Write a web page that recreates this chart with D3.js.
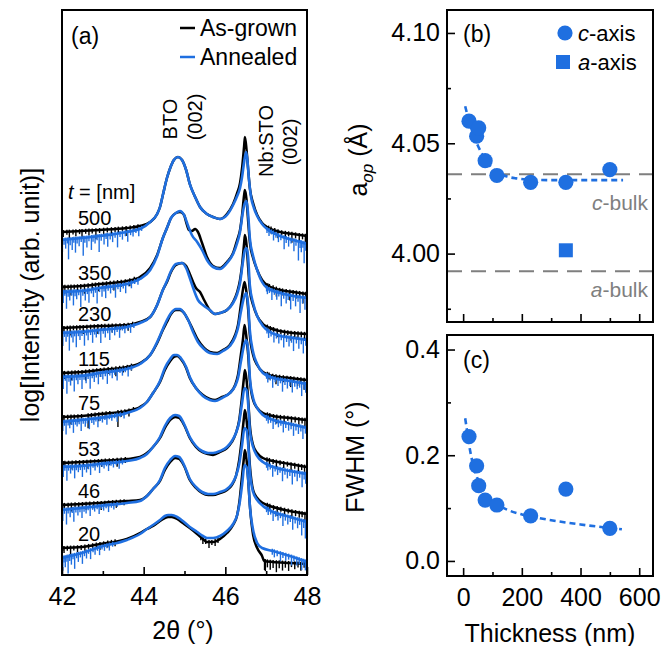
<!DOCTYPE html>
<html>
<head>
<meta charset="utf-8">
<script src="https://cdn.jsdelivr.net/npm/d3@7"></script>
<style>
  body { margin: 0; background: #fff; }
  svg { display: block; }
  text { font-family: "Liberation Sans", Arial, Helvetica, sans-serif; }
</style>
</head>
<body>
<svg id="fig" width="671" height="646"></svg>
<script>
// ---------- (a) XRD scans: [2θ (deg), log intensity + offset] ----------
const ag500 = [[42.00,34.3],[42.49,34.4],[42.93,34.5],[43.59,34.7],[43.91,34.9],[44.16,35.3],[44.33,36.1],[44.40,36.8],[44.47,38.0],[44.57,39.7],[44.65,40.7],[44.74,41.5],[44.84,41.8],[44.94,41.5],[45.04,40.5],[45.13,39.1],[45.26,37.8],[45.38,36.8],[45.55,36.1],[45.70,35.8],[45.87,35.6],[46.04,36.1],[46.19,37.1],[46.29,38.2],[46.36,39.2],[46.41,40.7],[46.46,42.9],[46.48,43.8],[46.52,42.5],[46.56,40.5],[46.60,38.7],[46.68,37.2],[46.78,36.0],[46.90,35.2],[47.02,34.8],[47.34,34.3],[47.66,34.1],[48.00,33.9]];
const an500 = [[42.00,33.5],[42.49,33.7],[42.93,33.9],[43.59,34.3],[43.91,34.6],[44.16,35.3],[44.33,36.1],[44.40,36.8],[44.47,38.0],[44.57,39.7],[44.65,40.7],[44.74,41.5],[44.84,41.8],[44.94,41.5],[45.04,40.5],[45.13,39.1],[45.26,37.8],[45.38,36.8],[45.55,36.1],[45.70,35.8],[45.87,35.6],[46.04,36.0],[46.19,37.0],[46.29,37.9],[46.36,38.7],[46.41,39.8],[46.46,41.3],[46.51,42.3],[46.54,41.5],[46.58,39.5],[46.63,37.8],[46.70,36.7],[46.78,35.9],[46.90,35.1],[47.02,34.6],[47.34,33.9],[47.66,33.5],[48.00,33.1]];
const ag350 = [[42.00,28.8],[42.49,28.9],[42.93,29.1],[43.59,29.4],[43.91,29.8],[44.16,30.7],[44.33,32.0],[44.47,33.7],[44.57,34.7],[44.67,35.7],[44.79,36.2],[44.89,36.3],[44.99,36.0],[45.04,35.3],[45.11,34.5],[45.18,34.4],[45.26,34.6],[45.33,34.3],[45.43,33.2],[45.55,31.8],[45.70,30.9],[45.87,30.7],[46.04,31.3],[46.19,32.2],[46.29,33.5],[46.36,34.5],[46.41,36.0],[46.46,38.0],[46.48,38.5],[46.52,37.5],[46.56,35.3],[46.60,33.3],[46.68,31.7],[46.78,30.5],[46.90,29.5],[47.02,29.0],[47.34,28.5],[47.66,28.3],[48.00,28.1]];
const an350 = [[42.00,28.3],[42.49,28.4],[42.93,28.7],[43.59,29.1],[43.91,29.6],[44.16,30.5],[44.33,31.9],[44.47,33.7],[44.57,34.7],[44.67,35.7],[44.79,36.2],[44.89,36.4],[44.99,36.0],[45.09,34.9],[45.18,34.0],[45.31,33.3],[45.43,32.5],[45.55,31.5],[45.70,30.8],[45.87,30.6],[46.04,31.2],[46.19,32.1],[46.29,33.2],[46.36,34.3],[46.43,36.3],[46.48,37.2],[46.52,37.4],[46.56,36.0],[46.60,33.7],[46.68,31.9],[46.78,30.5],[46.90,29.3],[47.02,28.7],[47.34,28.2],[47.66,27.9],[48.00,27.7]];
const ag230 = [[42.00,24.7],[42.49,24.8],[42.93,24.9],[43.59,25.0],[43.91,25.3],[44.16,25.8],[44.33,27.0],[44.47,28.5],[44.57,29.3],[44.67,30.3],[44.79,31.0],[44.94,31.2],[45.04,30.9],[45.13,30.1],[45.21,29.3],[45.28,28.7],[45.38,28.3],[45.48,27.5],[45.62,26.5],[45.75,26.1],[45.87,26.2],[46.04,26.5],[46.19,27.3],[46.29,28.3],[46.36,29.5],[46.41,31.0],[46.46,33.2],[46.48,34.0],[46.52,33.0],[46.56,30.7],[46.60,28.5],[46.68,27.0],[46.78,25.9],[46.92,25.1],[47.09,24.7],[47.34,24.4],[47.66,24.2],[48.00,24.1]];
const an230 = [[42.00,24.2],[42.49,24.3],[42.93,24.5],[43.59,24.8],[43.91,25.2],[44.16,25.8],[44.33,27.0],[44.47,28.5],[44.57,29.4],[44.67,30.4],[44.79,31.1],[44.94,31.2],[45.04,30.7],[45.13,29.7],[45.23,28.5],[45.33,27.5],[45.45,27.0],[45.62,26.5],[45.75,26.1],[45.87,26.2],[46.04,26.5],[46.19,27.2],[46.29,28.1],[46.36,29.2],[46.43,31.3],[46.48,32.5],[46.52,32.7],[46.56,31.7],[46.60,29.0],[46.68,27.2],[46.78,25.9],[46.92,24.9],[47.09,24.3],[47.34,23.9],[47.66,23.7],[48.00,23.5]];
const ag115 = [[42.00,20.2],[42.49,20.3],[42.93,20.5],[43.59,20.8],[43.91,21.2],[44.16,22.0],[44.33,23.2],[44.47,24.5],[44.57,25.3],[44.67,26.1],[44.79,26.5],[44.89,26.5],[44.99,26.2],[45.09,25.5],[45.21,24.5],[45.33,23.5],[45.48,22.7],[45.62,22.3],[45.80,22.2],[45.94,22.5],[46.11,23.0],[46.24,24.0],[46.31,25.0],[46.38,27.0],[46.43,28.5],[46.47,29.3],[46.51,28.5],[46.56,26.5],[46.60,24.0],[46.68,22.0],[46.78,21.0],[46.92,20.3],[47.17,19.9],[47.58,19.7],[48.00,19.5]];
const an115 = [[42.00,19.8],[42.49,19.9],[42.93,20.2],[43.59,20.6],[43.91,21.1],[44.16,22.0],[44.33,23.3],[44.47,24.6],[44.57,25.5],[44.67,26.2],[44.79,26.6],[44.89,26.6],[44.99,26.2],[45.09,25.5],[45.21,24.3],[45.33,23.3],[45.48,22.6],[45.62,22.2],[45.80,22.1],[45.94,22.4],[46.11,22.9],[46.24,23.8],[46.31,24.7],[46.38,26.3],[46.46,27.8],[46.51,28.2],[46.56,27.0],[46.60,24.5],[46.68,22.3],[46.78,21.1],[46.92,20.2],[47.17,19.7],[47.58,19.4],[48.00,19.1]];
const ag75 = [[42.00,15.8],[42.49,15.9],[42.93,16.1],[43.59,16.4],[43.91,16.8],[44.08,17.3],[44.23,18.2],[44.40,19.3],[44.52,20.5],[44.65,21.4],[44.74,21.8],[44.82,21.9],[44.91,21.6],[45.04,20.7],[45.13,19.7],[45.28,18.7],[45.45,18.0],[45.62,17.6],[45.75,17.5],[45.92,17.8],[46.11,18.2],[46.24,19.0],[46.31,20.0],[46.38,22.0],[46.43,23.5],[46.47,25.0],[46.51,24.0],[46.56,22.0],[46.60,19.5],[46.68,17.5],[46.78,16.7],[46.92,16.2],[47.17,15.9],[47.58,15.7],[48.00,15.5]];
const an75 = [[42.00,15.3],[42.49,15.5],[42.93,15.7],[43.59,16.2],[43.91,16.7],[44.08,17.3],[44.23,18.2],[44.40,19.4],[44.52,20.7],[44.65,21.6],[44.74,22.0],[44.82,22.0],[44.91,21.7],[45.04,20.8],[45.13,19.8],[45.28,18.7],[45.45,17.9],[45.62,17.5],[45.75,17.4],[45.92,17.7],[46.11,18.2],[46.24,18.9],[46.31,19.7],[46.38,21.3],[46.46,23.0],[46.51,23.5],[46.56,22.5],[46.60,19.8],[46.68,17.7],[46.78,16.7],[46.92,16.0],[47.17,15.5],[47.58,15.1],[48.00,14.7]];
const ag53 = [[42.00,11.2],[42.49,11.3],[42.93,11.4],[43.59,11.6],[43.91,11.8],[44.08,12.2],[44.23,12.8],[44.40,13.7],[44.52,14.7],[44.65,15.5],[44.77,15.8],[44.87,15.7],[44.99,15.0],[45.13,13.7],[45.28,12.8],[45.43,12.3],[45.58,12.1],[45.70,12.0],[45.87,12.3],[46.04,12.7],[46.16,13.3],[46.26,14.2],[46.34,15.5],[46.40,17.5],[46.45,19.5],[46.48,20.5],[46.52,19.5],[46.56,17.5],[46.60,15.0],[46.68,13.0],[46.78,12.2],[46.92,11.7],[47.17,11.4],[47.58,11.1],[48.00,10.8]];
const an53 = [[42.00,10.8],[42.49,10.9],[42.93,11.1],[43.59,11.4],[43.91,11.7],[44.08,12.1],[44.23,12.8],[44.40,13.8],[44.52,14.9],[44.65,15.7],[44.77,16.0],[44.87,15.9],[44.99,15.1],[45.13,13.8],[45.28,12.9],[45.43,12.4],[45.58,12.2],[45.70,12.2],[45.87,12.4],[46.04,12.8],[46.16,13.4],[46.26,14.2],[46.34,15.3],[46.41,17.2],[46.47,18.7],[46.52,18.5],[46.57,16.5],[46.60,14.5],[46.68,12.8],[46.78,11.9],[46.92,11.3],[47.17,10.8],[47.58,10.4],[48.00,10.1]];
const ag46 = [[42.00,7.0],[42.49,7.1],[42.93,7.2],[43.59,7.4],[43.91,7.5],[44.08,7.9],[44.23,8.6],[44.40,9.4],[44.52,10.5],[44.65,11.3],[44.77,11.7],[44.87,11.6],[44.99,10.9],[45.13,9.5],[45.28,8.7],[45.43,8.2],[45.58,8.0],[45.70,8.0],[45.87,8.2],[46.04,8.5],[46.16,9.0],[46.26,9.9],[46.34,11.5],[46.40,13.5],[46.45,15.5],[46.48,16.5],[46.52,15.5],[46.56,13.5],[46.60,11.0],[46.68,8.5],[46.78,7.7],[46.92,7.2],[47.17,6.8],[47.58,6.4],[48.00,6.1]];
const an46 = [[42.00,6.5],[42.49,6.7],[42.93,6.9],[43.59,7.2],[43.91,7.4],[44.08,7.9],[44.23,8.6],[44.40,9.5],[44.52,10.7],[44.65,11.5],[44.77,11.9],[44.87,11.8],[44.99,11.0],[45.13,9.6],[45.28,8.8],[45.43,8.3],[45.58,8.1],[45.70,8.1],[45.87,8.3],[46.04,8.6],[46.16,9.1],[46.26,9.9],[46.34,11.1],[46.41,13.0],[46.47,14.7],[46.52,14.5],[46.57,12.5],[46.60,10.5],[46.68,8.3],[46.78,7.5],[46.92,6.9],[47.17,6.3],[47.58,5.8],[48.00,5.3]];
const ag20 = [[42.00,2.7],[42.49,2.8],[42.93,3.1],[43.59,3.6],[43.91,4.2],[44.08,4.6],[44.23,4.9],[44.40,5.4],[44.52,5.7],[44.60,5.8],[44.69,5.8],[44.82,5.6],[44.96,5.2],[45.13,4.7],[45.31,4.1],[45.45,3.6],[45.55,3.3],[45.70,3.3],[45.87,3.6],[46.04,4.2],[46.19,5.0],[46.29,6.0],[46.35,7.5],[46.40,9.5],[46.45,11.5],[46.48,12.5],[46.52,11.5],[46.56,9.5],[46.60,7.0],[46.68,4.0],[46.78,2.7],[46.90,1.9],[46.95,1.4],[47.17,1.3],[47.58,1.2],[48.00,1.1]];
const an20 = [[42.00,1.7],[42.49,2.2],[42.93,2.8],[43.59,3.5],[43.91,4.1],[44.08,4.6],[44.23,5.0],[44.40,5.5],[44.52,5.9],[44.60,6.0],[44.69,6.0],[44.82,5.8],[44.96,5.4],[45.13,4.8],[45.31,4.3],[45.45,3.9],[45.55,3.7],[45.70,3.7],[45.87,3.9],[46.04,4.4],[46.19,5.1],[46.29,6.0],[46.35,7.2],[46.41,9.0],[46.47,11.0],[46.52,10.8],[46.57,9.0],[46.60,7.0],[46.68,4.5],[46.78,3.2],[46.90,2.7],[47.17,2.4],[47.58,1.9],[48.00,1.3]];

// counting-noise dips below each scan: [2θ, depth in log units]
const sp500ag = [[42.03,0.5],[42.12,0.3],[42.18,0.8],[42.27,0.3],[42.34,0.5],[42.43,0.3],[42.49,0.7],[42.58,0.3],[42.66,0.5],[42.74,0.3],[42.83,0.9],[42.92,0.3],[43.02,0.5],[43.11,0.3],[43.21,0.7],[43.30,0.3],[43.38,0.5],[43.48,0.3],[43.57,0.8],[43.67,0.3],[43.76,0.4],[43.86,0.3],[47.06,0.3],[47.12,0.5],[47.21,0.3],[47.29,0.7],[47.38,0.3],[47.47,0.5],[47.55,0.3],[47.63,0.9],[47.72,0.4],[47.81,0.6],[47.89,0.4],[47.96,0.8]];
const sp500an = [[42.01,1.2],[42.05,0.5],[42.09,0.9],[42.13,0.4],[42.16,2.0],[42.20,0.6],[42.25,1.1],[42.29,0.4],[42.33,1.4],[42.37,0.5],[42.42,0.8],[42.47,0.4],[42.52,1.8],[42.56,0.5],[42.61,1.0],[42.66,0.4],[42.72,1.3],[42.76,0.5],[42.81,0.7],[42.86,0.4],[42.91,1.6],[42.96,0.5],[43.03,0.9],[43.08,0.4],[43.12,1.2],[43.18,0.5],[43.24,0.8],[43.30,0.4],[43.36,1.4],[43.42,0.4],[43.48,0.7],[43.55,0.4],[43.61,1.0],[43.68,0.4],[43.74,0.6],[43.81,0.3],[43.88,0.7],[43.95,0.3],[47.02,0.4],[47.07,0.6],[47.13,0.3],[47.18,0.8],[47.24,0.4],[47.30,0.7],[47.36,0.4],[47.44,1.2],[47.49,0.5],[47.55,0.8],[47.61,0.4],[47.68,1.1],[47.73,0.5],[47.79,1.9],[47.83,0.6],[47.86,1.0],[47.90,0.5],[47.93,2.0],[47.97,0.7]];
const sp350ag = [[42.02,0.4],[42.07,0.7],[42.15,0.3],[42.22,0.9],[42.30,0.3],[42.38,0.5],[42.46,0.3],[42.55,0.8],[42.64,0.3],[42.74,0.5],[42.82,0.3],[42.90,0.7],[43.00,0.3],[43.09,0.5],[43.18,0.3],[43.27,0.8],[43.36,0.3],[43.45,0.5],[43.55,0.3],[43.66,0.6],[43.77,0.3],[47.04,0.3],[47.08,0.5],[47.17,0.3],[47.25,0.8],[47.33,0.3],[47.40,0.5],[47.49,0.3],[47.58,0.9],[47.66,0.4],[47.74,0.6],[47.82,0.4],[47.90,1.0],[47.97,0.4]];
const sp350an = [[42.01,0.6],[42.03,1.1],[42.07,0.4],[42.11,1.7],[42.15,0.5],[42.19,0.9],[42.24,0.4],[42.28,1.4],[42.32,0.5],[42.36,0.8],[42.41,0.4],[42.46,1.6],[42.51,0.5],[42.57,1.0],[42.62,0.4],[42.66,1.3],[42.72,0.4],[42.77,0.8],[42.82,0.4],[42.86,1.5],[42.92,0.4],[42.98,0.9],[43.03,0.4],[43.07,1.1],[43.13,0.4],[43.19,0.7],[43.25,0.4],[43.31,1.2],[43.37,0.4],[43.43,0.7],[43.50,0.4],[43.56,0.9],[43.63,0.3],[43.70,0.6],[43.78,0.3],[43.86,0.5],[47.01,0.4],[47.03,0.6],[47.08,0.4],[47.14,1.0],[47.20,0.4],[47.26,0.8],[47.31,0.4],[47.37,1.3],[47.43,0.5],[47.49,0.9],[47.54,0.5],[47.60,1.4],[47.66,0.5],[47.72,1.0],[47.78,0.5],[47.83,1.6],[47.89,0.6],[47.95,1.2],[47.99,0.5]];
const sp230ag = [[42.02,0.3],[42.05,0.6],[42.13,0.3],[42.20,0.8],[42.28,0.3],[42.36,0.5],[42.44,0.3],[42.52,0.7],[42.61,0.3],[42.70,0.5],[42.79,0.3],[42.88,0.8],[42.97,0.3],[43.05,0.5],[43.14,0.3],[43.23,0.7],[43.32,0.3],[43.42,0.5],[43.52,0.3],[43.62,0.6],[43.73,0.3],[47.03,0.3],[47.10,0.5],[47.18,0.3],[47.27,0.7],[47.36,0.3],[47.45,0.5],[47.53,0.3],[47.61,0.8],[47.70,0.4],[47.78,0.6],[47.86,0.4],[47.94,0.7]];
const sp230an = [[42.01,0.7],[42.02,1.3],[42.06,0.4],[42.10,0.9],[42.14,0.4],[42.18,1.8],[42.23,0.5],[42.27,1.0],[42.31,0.4],[42.35,1.5],[42.40,0.4],[42.44,0.8],[42.49,0.4],[42.55,1.4],[42.60,0.4],[42.64,0.9],[42.70,0.4],[42.75,1.2],[42.80,0.4],[42.84,0.7],[42.90,0.4],[42.95,1.3],[43.01,0.4],[43.06,0.8],[43.12,0.4],[43.17,1.1],[43.23,0.4],[43.29,0.7],[43.35,0.4],[43.41,1.0],[43.48,0.3],[43.54,0.6],[43.61,0.3],[43.68,0.7],[43.76,0.3],[47.02,0.4],[47.06,0.7],[47.12,0.4],[47.19,0.9],[47.25,0.4],[47.31,0.8],[47.37,0.4],[47.43,1.1],[47.50,0.5],[47.56,0.9],[47.62,0.5],[47.67,1.3],[47.74,0.5],[47.80,1.0],[47.86,0.5],[47.91,1.4],[47.97,0.6]];
const sp115ag = [[42.02,0.3],[42.06,0.6],[42.15,0.3],[42.24,0.8],[42.32,0.3],[42.40,0.5],[42.49,0.3],[42.58,0.9],[42.67,0.3],[42.76,0.5],[42.85,0.3],[42.94,0.7],[43.03,0.3],[43.13,0.5],[43.22,0.3],[43.32,0.8],[43.41,0.3],[43.50,0.5],[43.60,0.3],[43.70,0.5],[47.03,0.3],[47.07,0.5],[47.16,0.3],[47.24,0.8],[47.33,0.3],[47.42,0.5],[47.51,0.3],[47.60,0.9],[47.68,0.4],[47.77,0.7],[47.85,0.4],[47.93,1.0]];
const sp115an = [[42.01,0.6],[42.03,1.2],[42.08,0.4],[42.12,1.7],[42.17,0.5],[42.21,0.9],[42.26,0.4],[42.30,1.5],[42.35,0.4],[42.39,0.8],[42.44,0.4],[42.49,1.3],[42.54,0.4],[42.59,0.8],[42.64,0.4],[42.69,1.4],[42.74,0.4],[42.79,0.8],[42.84,0.4],[42.89,1.1],[42.95,0.4],[43.00,0.7],[43.06,0.4],[43.11,1.2],[43.17,0.4],[43.23,0.7],[43.29,0.4],[43.35,1.0],[43.42,0.3],[43.48,0.6],[43.55,0.3],[43.62,0.8],[43.70,0.3],[47.01,0.4],[47.04,0.7],[47.10,0.4],[47.16,1.0],[47.22,0.4],[47.29,0.7],[47.35,0.4],[47.40,1.2],[47.46,0.5],[47.52,0.8],[47.58,0.5],[47.64,1.1],[47.70,0.5],[47.76,0.7],[47.82,0.5],[47.87,1.3],[47.93,0.6],[47.97,0.9]];
const sp75ag = [[42.02,0.3],[42.05,0.5],[42.14,0.3],[42.22,0.8],[42.30,0.3],[42.39,0.6],[42.48,0.3],[42.64,1.3],[42.72,0.5],[42.81,0.3],[42.90,0.7],[42.99,0.3],[43.08,0.5],[43.17,0.3],[43.37,1.5],[43.45,0.5],[43.54,0.3],[43.64,0.6],[43.75,0.3],[47.03,0.3],[47.09,0.4],[47.18,0.3],[47.26,0.7],[47.35,0.3],[47.44,0.5],[47.53,0.3],[47.62,0.8],[47.71,0.4],[47.80,0.6],[47.88,0.4],[47.95,0.7]];
const sp75an = [[42.01,0.5],[42.02,0.9],[42.06,0.4],[42.10,1.3],[42.15,0.4],[42.19,0.7],[42.24,0.4],[42.28,1.2],[42.33,0.4],[42.37,0.6],[42.42,0.4],[42.47,1.1],[42.52,0.4],[42.57,0.7],[42.62,0.4],[42.67,1.0],[42.73,0.4],[42.78,0.6],[42.83,0.3],[42.88,0.9],[42.94,0.3],[42.99,0.5],[43.05,0.3],[43.10,0.8],[43.16,0.3],[43.22,0.5],[43.29,0.3],[43.35,0.7],[43.43,0.3],[43.52,0.5],[47.01,0.4],[47.05,0.6],[47.11,0.4],[47.17,0.9],[47.23,0.4],[47.30,0.6],[47.36,0.4],[47.42,1.0],[47.48,0.5],[47.55,0.7],[47.61,0.5],[47.67,1.1],[47.73,0.5],[47.79,0.8],[47.85,0.5],[47.90,1.2],[47.96,0.6]];
const sp53ag = [[42.03,0.3],[42.07,0.5],[42.16,0.3],[42.25,0.7],[42.34,0.3],[42.43,0.5],[42.52,0.3],[42.61,0.7],[42.70,0.3],[42.80,0.5],[42.89,0.3],[42.97,0.6],[43.06,0.3],[43.16,0.5],[43.25,0.3],[43.35,0.7],[43.45,0.3],[43.55,0.4],[47.02,0.3],[47.08,0.5],[47.17,0.3],[47.25,0.7],[47.34,0.3],[47.43,0.5],[47.52,0.3],[47.61,0.7],[47.70,0.4],[47.79,0.6],[47.87,0.4],[47.94,0.8]];
const sp53an = [[42.01,0.5],[42.03,1.0],[42.07,0.4],[42.12,1.4],[42.16,0.4],[42.21,0.7],[42.26,0.4],[42.31,1.2],[42.35,0.4],[42.40,0.6],[42.45,0.4],[42.50,1.1],[42.55,0.4],[42.60,0.7],[42.65,0.4],[42.70,1.0],[42.76,0.3],[42.81,0.6],[42.87,0.3],[42.92,0.9],[42.98,0.3],[43.03,0.5],[43.09,0.3],[43.14,0.8],[43.20,0.3],[43.26,0.5],[43.33,0.3],[43.40,0.7],[43.48,0.3],[47.01,0.4],[47.04,0.6],[47.10,0.4],[47.16,1.0],[47.22,0.4],[47.28,0.7],[47.34,0.4],[47.40,1.2],[47.46,0.5],[47.52,0.8],[47.58,0.5],[47.64,1.3],[47.70,0.5],[47.76,0.9],[47.82,0.5],[47.88,1.4],[47.93,0.6],[47.97,1.0]];
const sp46ag = [[42.02,0.3],[42.06,0.5],[42.15,0.3],[42.23,0.7],[42.32,0.3],[42.41,0.5],[42.50,0.3],[42.59,0.6],[42.68,0.3],[42.78,0.5],[42.87,0.3],[42.96,0.7],[43.05,0.3],[43.14,0.5],[43.24,0.3],[43.33,0.6],[43.43,0.3],[43.52,0.4],[47.03,0.3],[47.09,0.5],[47.18,0.3],[47.27,0.8],[47.36,0.3],[47.45,0.5],[47.54,0.3],[47.63,0.7],[47.72,0.4],[47.81,0.5],[47.88,0.4],[47.95,0.8]];
const sp46an = [[42.01,0.6],[42.02,1.1],[42.06,0.4],[42.11,1.5],[42.15,0.4],[42.20,0.8],[42.25,0.4],[42.29,1.3],[42.34,0.4],[42.39,0.7],[42.44,0.4],[42.49,1.0],[42.54,0.4],[42.59,0.6],[42.64,0.3],[42.69,0.9],[42.75,0.3],[42.80,0.5],[42.86,0.3],[42.91,0.8],[42.97,0.3],[43.02,0.5],[43.08,0.3],[43.14,0.7],[43.21,0.3],[43.27,0.5],[43.35,0.3],[47.01,0.4],[47.05,0.6],[47.11,0.4],[47.17,0.9],[47.23,0.4],[47.29,0.7],[47.35,0.4],[47.41,1.1],[47.47,0.5],[47.53,0.8],[47.59,0.5],[47.65,1.2],[47.71,0.5],[47.77,0.9],[47.82,0.5],[47.87,1.5],[47.92,0.7],[47.96,1.7],[47.99,0.6]];
const sp20ag = [[42.02,0.3],[42.05,0.5],[42.13,0.3],[42.21,0.7],[42.29,0.3],[42.38,0.5],[42.47,0.3],[42.56,0.6],[42.65,0.3],[42.75,0.5],[42.84,0.3],[42.93,0.6],[43.02,0.3],[43.12,0.5],[43.21,0.3],[43.30,0.5],[45.40,0.3],[45.45,0.5],[45.52,0.3],[45.60,0.6],[45.67,0.3],[45.75,0.5],[45.82,0.3],[46.96,0.9],[46.98,1.0],[47.03,0.6],[47.10,0.8],[47.17,0.6],[47.25,1.0],[47.32,0.6],[47.40,0.8],[47.47,0.5],[47.55,0.8],[47.62,0.4],[47.70,0.6],[47.78,0.4],[47.85,0.7],[47.93,0.4]];
const sp20an = [[42.01,0.8],[42.02,1.3],[42.05,0.5],[42.08,1.0],[42.12,0.5],[42.15,1.7],[42.19,0.5],[42.23,0.9],[42.27,0.4],[42.31,1.4],[42.36,0.4],[42.40,0.8],[42.45,0.4],[42.50,1.1],[42.55,0.4],[42.60,0.7],[42.65,0.3],[42.70,0.9],[42.76,0.3],[42.81,0.6],[42.87,0.3],[42.92,0.8],[42.98,0.3],[43.04,0.5],[43.10,0.3],[43.16,0.6],[43.24,0.3],[47.15,0.4],[47.20,0.6],[47.27,0.4],[47.35,0.8],[47.41,0.4],[47.48,0.6],[47.55,0.4],[47.62,0.9],[47.68,0.4],[47.75,0.7],[47.81,0.5],[47.87,1.0],[47.92,0.5],[47.96,0.9]];

const thicknessLabels = ["20", "46", "53", "75", "115", "230", "350", "500"];
const asGrown = [ag20, ag46, ag53, ag75, ag115, ag230, ag350, ag500];
const annealed = [an20, an46, an53, an75, an115, an230, an350, an500];
const dipsAsGrown = [sp20ag, sp46ag, sp53ag, sp75ag, sp115ag, sp230ag, sp350ag, sp500ag];
const dipsAnnealed = [sp20an, sp46an, sp53an, sp75an, sp115an, sp230an, sp350an, sp500an];
const twoThetaTicks = [42, 44, 46, 48];
const twoThetaMinor = [43, 45, 47];

// ---------- (b), (c) thickness series ----------
const thickness = [20, 46, 53, 75, 115, 230, 350, 500];
const cAxis = [4.0600, 4.0532, 4.0570, 4.0421, 4.0354, 4.0323, 4.0323, 4.0381];
const aAxisThickness = [350];
const aAxis = [4.0015];
const cBulk = 4.036;
const aBulk = 3.992;
const fitLattice = [[7,4.0668],[20,4.0600],[35,4.0540],[50,4.0490],[65,4.0450],[80,4.0418],[100,4.0385],[125,4.0362],[150,4.0349],[180,4.0341],[220,4.0336],[300,4.0333],[400,4.0333],[545,4.0333]];
const fwhm = [0.2354, 0.1800, 0.1424, 0.1152, 0.1058, 0.0854, 0.1360, 0.0615];
const fitFwhm = [[7,0.270],[15,0.240],[25,0.205],[35,0.180],[45,0.162],[55,0.148],[70,0.132],[90,0.118],[115,0.107],[150,0.097],[200,0.088],[250,0.082],[300,0.077],[400,0.069],[541,0.060]];
const latticeTicks = [4.00, 4.05, 4.10];
const latticeMinor = [3.975, 4.025, 4.075];
const fwhmTicks = [0.0, 0.2, 0.4];
const fwhmMinor = [0.1, 0.3];
const thicknessTicks = [0, 200, 400, 600];
const thicknessMinor = [100, 300, 500];

// ---------- drawing ----------
const BLUE = "#1f6fe0";
const GRAY = "#7f7f7f";
const svg = d3.select("#fig");

function styleAxis(g, fontSize) {
  g.select(".domain").remove();
  g.selectAll(".tick line").attr("stroke", "#000").attr("stroke-width", 1.6);
  g.selectAll(".tick text").attr("fill", "#000").attr("font-size", fontSize)
    .attr("font-family", "'Liberation Sans', Arial, sans-serif");
}

function valueAt(series, t) {
  const i = d3.bisector(d => d[0]).left(series, t);
  if (i <= 0) return series[0][1];
  if (i >= series.length) return series[series.length - 1][1];
  const a = series[i - 1], b = series[i];
  return a[1] + (t - a[0]) / (b[0] - a[0]) * (b[1] - a[1]);
}

// ===== panel (a) =====
const xA = d3.scaleLinear().domain([42, 48]).range([62, 307]);
const yA = d3.scaleLinear().domain([0, 56.5]).range([575, 10]);
const defs = svg.append("defs");
defs.append("clipPath").attr("id", "clipA").append("rect")
  .attr("x", 62).attr("y", 10).attr("width", 245).attr("height", 565);
const plotA = svg.append("g").attr("clip-path", "url(#clipA)");
const scanLine = d3.line().x(d => xA(d[0])).y(d => yA(d[1])).curve(d3.curveMonotoneX);

function drawScan(series, dips, color, width) {
  plotA.append("g").selectAll("line").data(dips).join("line")
    .attr("x1", d => xA(d[0])).attr("x2", d => xA(d[0]))
    .attr("y1", d => yA(valueAt(series, d[0]) + 0.2))
    .attr("y2", d => yA(valueAt(series, d[0]) - d[1]))
    .attr("stroke", color).attr("stroke-width", 1.4);
  plotA.append("path").attr("d", scanLine(series))
    .attr("fill", "none").attr("stroke", color).attr("stroke-width", width)
    .attr("stroke-linejoin", "round");
}

for (let i = 0; i < asGrown.length; i++) {
  drawScan(asGrown[i], dipsAsGrown[i], "#000", 2.5);
  drawScan(annealed[i], dipsAnnealed[i], BLUE, 2.6);
}

// thickness labels sit just above each scan's baseline
const labelsA = svg.append("g");
thicknessLabels.forEach((lab, i) => {
  labelsA.append("text").attr("x", 78).attr("y", yA(asGrown[i][1][1]) - 13)
    .attr("dy", "0.35em").attr("font-size", 20).text(lab);
});
const tLab = labelsA.append("text").attr("x", 68).attr("y", 192).attr("dy", "0.35em").attr("font-size", 20);
tLab.append("tspan").attr("font-style", "italic").text("t");
tLab.append("tspan").text(" = [nm]");

// peak annotations
function vText(x, y, str, size) {
  svg.append("text").attr("transform", `translate(${x},${y}) rotate(-90)`)
    .attr("text-anchor", "middle").attr("dy", "0.35em").attr("font-size", size).text(str);
}
vText(170, 119, "BTO", 20);
vText(195, 117, "(002)", 20);
vText(266, 141, "Nb:STO", 20);
vText(290, 142, "(002)", 20);

// legend
svg.append("line").attr("x1", 180).attr("x2", 195).attr("y1", 28).attr("y2", 28).attr("stroke", "#000").attr("stroke-width", 2.5);
svg.append("text").attr("x", 200).attr("y", 28).attr("dy", "0.35em").attr("font-size", 23).text("As-grown");
svg.append("line").attr("x1", 180).attr("x2", 195).attr("y1", 57).attr("y2", 57).attr("stroke", BLUE).attr("stroke-width", 2.5);
svg.append("text").attr("x", 200).attr("y", 57).attr("dy", "0.35em").attr("font-size", 23).text("Annealed");
svg.append("text").attr("x", 71).attr("y", 36).attr("dy", "0.35em").attr("font-size", 23).text("(a)");

const axA = svg.append("g").attr("transform", "translate(0,575)")
  .call(d3.axisBottom(xA).tickValues(twoThetaTicks).tickSize(-8).tickPadding(12).tickFormat(d3.format("d")));
styleAxis(axA, 25);
const axAm = svg.append("g").attr("transform", "translate(0,575)")
  .call(d3.axisBottom(xA).tickValues(twoThetaMinor).tickSize(-4).tickFormat(""));
styleAxis(axAm, 25);
svg.append("rect").attr("x", 62).attr("y", 10).attr("width", 245).attr("height", 565)
  .attr("fill", "none").attr("stroke", "#000").attr("stroke-width", 2);
svg.append("text").attr("x", 183).attr("y", 630).attr("text-anchor", "middle").attr("dy", "0.35em")
  .attr("font-size", 25).text("2θ (°)");
svg.append("text").attr("transform", "translate(30,295) rotate(-90)").attr("text-anchor", "middle")
  .attr("dy", "0.35em").attr("font-size", 25).text("log[Intensity (arb. unit)]");

// ===== panels (b) and (c) share the thickness axis =====
const xT = d3.scaleLinear().domain([-55, 647]).range([447, 653]);
const yB = d3.scaleLinear().domain([3.969, 4.1104]).range([322, 10]);
const yC = d3.scaleLinear().domain([-0.0285, 0.4275]).range([576, 335]);

// --- (b) ---
defs.append("clipPath").attr("id", "clipB").append("rect")
  .attr("x", 447).attr("y", 10).attr("width", 206).attr("height", 312);
const plotB = svg.append("g").attr("clip-path", "url(#clipB)");
[cBulk, aBulk].forEach(v => {
  plotB.append("line").attr("x1", 447).attr("x2", 653).attr("y1", yB(v)).attr("y2", yB(v))
    .attr("stroke", GRAY).attr("stroke-width", 2).attr("stroke-dasharray", "15,9");
});
const fitLineB = d3.line().x(d => xT(d[0])).y(d => yB(d[1])).curve(d3.curveMonotoneX);
plotB.append("path").attr("d", fitLineB(fitLattice)).attr("fill", "none")
  .attr("stroke", BLUE).attr("stroke-width", 2.6).attr("stroke-dasharray", "6,4");
plotB.selectAll("circle").data(thickness).join("circle")
  .attr("cx", d => xT(d)).attr("cy", (d, i) => yB(cAxis[i])).attr("r", 7.6).attr("fill", BLUE);
plotB.selectAll("rect.sq").data(aAxisThickness).join("rect").attr("class", "sq")
  .attr("x", d => xT(d) - 7).attr("y", (d, i) => yB(aAxis[i]) - 7).attr("width", 14).attr("height", 14).attr("fill", BLUE);

const cb = svg.append("text").attr("x", 648).attr("y", 203).attr("text-anchor", "end").attr("dy", "0.35em")
  .attr("font-size", 21).attr("fill", GRAY);
cb.append("tspan").attr("font-style", "italic").text("c");
cb.append("tspan").text("-bulk");
const ab = svg.append("text").attr("x", 648).attr("y", 290).attr("text-anchor", "end").attr("dy", "0.35em")
  .attr("font-size", 21).attr("fill", GRAY);
ab.append("tspan").attr("font-style", "italic").text("a");
ab.append("tspan").text("-bulk");

svg.append("circle").attr("cx", 565).attr("cy", 33).attr("r", 7.6).attr("fill", BLUE);
const lc = svg.append("text").attr("x", 578).attr("y", 33).attr("dy", "0.35em").attr("font-size", 22);
lc.append("tspan").attr("font-style", "italic").text("c");
lc.append("tspan").text("-axis");
svg.append("rect").attr("x", 556).attr("y", 55).attr("width", 14).attr("height", 14).attr("fill", BLUE);
const la = svg.append("text").attr("x", 578).attr("y", 62).attr("dy", "0.35em").attr("font-size", 22);
la.append("tspan").attr("font-style", "italic").text("a");
la.append("tspan").text("-axis");
svg.append("text").attr("x", 463).attr("y", 34).attr("dy", "0.35em").attr("font-size", 23).text("(b)");

const axB = svg.append("g").attr("transform", "translate(447,0)")
  .call(d3.axisLeft(yB).tickValues(latticeTicks).tickSize(-8).tickPadding(7).tickFormat(d3.format(".2f")));
styleAxis(axB, 25);
const axBm = svg.append("g").attr("transform", "translate(447,0)")
  .call(d3.axisLeft(yB).tickValues(latticeMinor).tickSize(-4).tickFormat(""));
styleAxis(axBm, 25);
const axBx = svg.append("g").attr("transform", "translate(0,322)")
  .call(d3.axisBottom(xT).tickValues(thicknessTicks).tickSize(-8).tickFormat(""));
styleAxis(axBx, 25);
const axBxm = svg.append("g").attr("transform", "translate(0,322)")
  .call(d3.axisBottom(xT).tickValues(thicknessMinor).tickSize(-4).tickFormat(""));
styleAxis(axBxm, 25);
svg.append("rect").attr("x", 447).attr("y", 10).attr("width", 206).attr("height", 312)
  .attr("fill", "none").attr("stroke", "#000").attr("stroke-width", 2);
const tb = svg.append("text").attr("transform", "translate(358,160) rotate(-90)").attr("text-anchor", "middle")
  .attr("dy", "0.35em").attr("font-size", 25);
tb.append("tspan").text("a");
tb.append("tspan").attr("font-style", "italic").attr("font-size", 17).attr("dy", 6).text("op");
tb.append("tspan").attr("dy", -6).text(" (Å)");

// --- (c) ---
defs.append("clipPath").attr("id", "clipC").append("rect")
  .attr("x", 447).attr("y", 335).attr("width", 206).attr("height", 241);
const plotC = svg.append("g").attr("clip-path", "url(#clipC)");
const fitLineC = d3.line().x(d => xT(d[0])).y(d => yC(d[1])).curve(d3.curveMonotoneX);
plotC.append("path").attr("d", fitLineC(fitFwhm)).attr("fill", "none")
  .attr("stroke", BLUE).attr("stroke-width", 2.6).attr("stroke-dasharray", "6,4");
plotC.selectAll("circle").data(thickness).join("circle")
  .attr("cx", d => xT(d)).attr("cy", (d, i) => yC(fwhm[i])).attr("r", 7.6).attr("fill", BLUE);
svg.append("text").attr("x", 463).attr("y", 360).attr("dy", "0.35em").attr("font-size", 23).text("(c)");

const axC = svg.append("g").attr("transform", "translate(447,0)")
  .call(d3.axisLeft(yC).tickValues(fwhmTicks).tickSize(-8).tickPadding(7).tickFormat(d3.format(".1f")));
styleAxis(axC, 25);
const axCm = svg.append("g").attr("transform", "translate(447,0)")
  .call(d3.axisLeft(yC).tickValues(fwhmMinor).tickSize(-4).tickFormat(""));
styleAxis(axCm, 25);
const axCx = svg.append("g").attr("transform", "translate(0,576)")
  .call(d3.axisBottom(xT).tickValues(thicknessTicks).tickSize(-8).tickPadding(12).tickFormat(d3.format("d")));
styleAxis(axCx, 25);
const axCxm = svg.append("g").attr("transform", "translate(0,576)")
  .call(d3.axisBottom(xT).tickValues(thicknessMinor).tickSize(-4).tickFormat(""));
styleAxis(axCxm, 25);
svg.append("rect").attr("x", 447).attr("y", 335).attr("width", 206).attr("height", 241)
  .attr("fill", "none").attr("stroke", "#000").attr("stroke-width", 2);
svg.append("text").attr("transform", "translate(355,457) rotate(-90)").attr("text-anchor", "middle")
  .attr("dy", "0.35em").attr("font-size", 25).text("FWHM (°)");
svg.append("text").attr("x", 550).attr("y", 633).attr("text-anchor", "middle").attr("dy", "0.35em")
  .attr("font-size", 25).text("Thickness (nm)");
</script>
</body>
</html>
